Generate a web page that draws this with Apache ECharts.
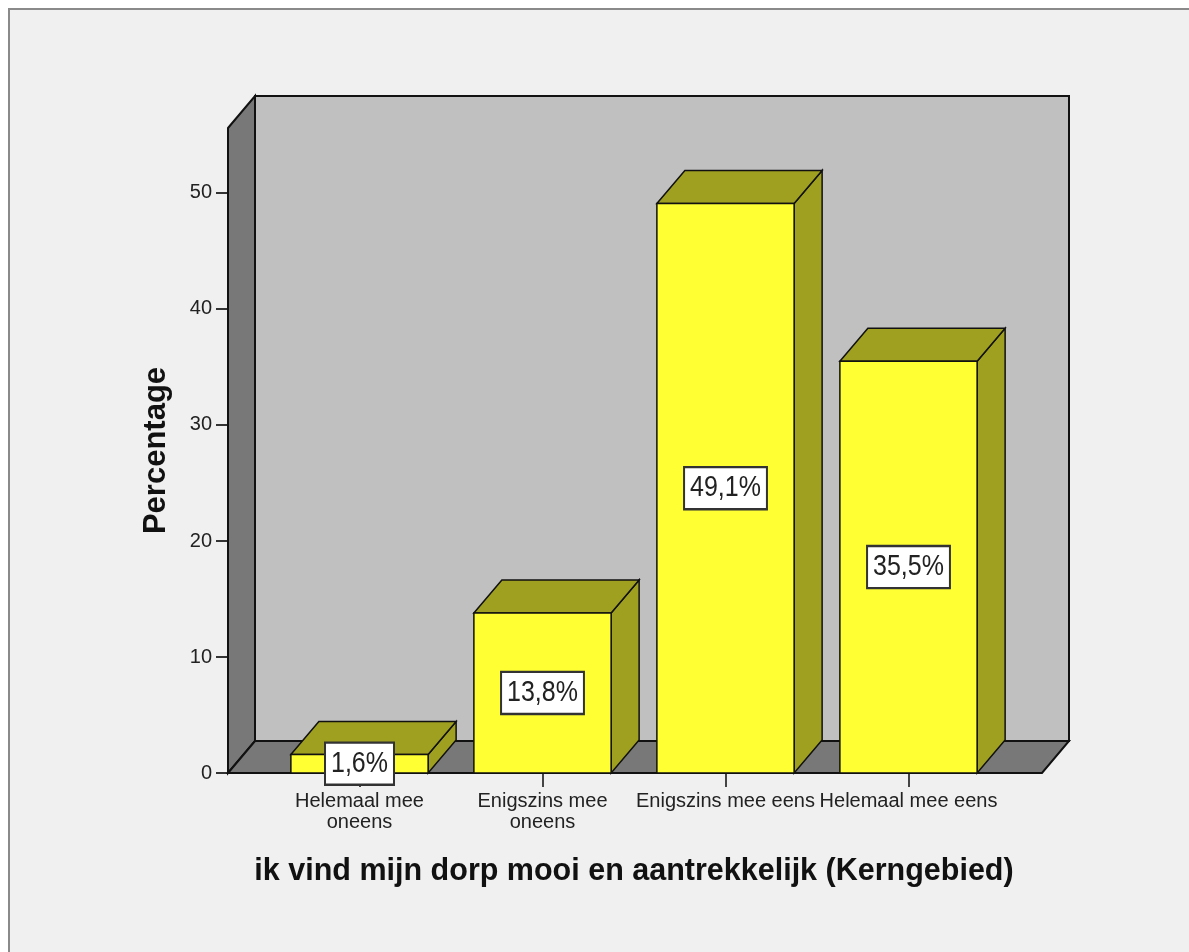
<!DOCTYPE html>
<html>
<head>
<meta charset="utf-8">
<script src="https://cdn.jsdelivr.net/npm/echarts@6/dist/echarts.min.js"></script>
<style>
html, body { margin: 0; padding: 0; background: #ffffff; }
#main { width: 1189px; height: 952px; }
</style>
</head>
<body>
<div id="main"></div>
<script>
var categories = ['Helemaal mee\noneens', 'Enigszins mee\noneens', 'Enigszins mee eens', 'Helemaal mee eens'];
var percentages = [1.6, 13.8, 49.1, 35.5];
var valueLabels = ['1,6%', '13,8%', '49,1%', '35,5%'];
var yTicks = [0, 10, 20, 30, 40, 50];

var DX = 28, DY = -33;   // diepte-offset 3D
var font = 'Liberation Sans, Arial, sans-serif';

var chart = echarts.init(document.getElementById('main'));

// achterwand, zijwand en vloer
function renderWalls(params, api) {
	var cs = params.coordSys;
	var l = cs.x - 40, r = cs.x + cs.width + 42;
	var t = cs.y, b = cs.y + cs.height;
	var dx = 27, dy = -32;
	var edge = { stroke: '#111', lineWidth: 2 };
	return {
		type: 'group',
		children: [{
			type: 'rect',
			shape: { x: l + dx, y: t + dy, width: r - l, height: b - t },
			style: Object.assign({ fill: '#c0c0c0' }, edge)
		}, {
			type: 'polygon',
			shape: { points: [[l, t], [l + dx, t + dy], [l + dx, b + dy], [l, b]] },
			style: Object.assign({ fill: '#787878' }, edge)
		}, {
			type: 'polygon',
			shape: { points: [[l, b], [l + dx, b + dy], [r + dx, b + dy], [r, b]] },
			style: Object.assign({ fill: '#787878' }, edge)
		}]
	};
}

// 3D staaf
function renderBar(params, api) {
	var idx = api.value(0);
	var val = api.value(1);
	var base = api.coord([idx, 0]);
	var top = api.coord([idx, val]);
	var mid = api.coord([idx, val / 2]);
	var bw = api.size([1, 0])[0] * 0.75;
	var x0 = base[0] - bw / 2, x1 = base[0] + bw / 2;
	var yb = base[1], yt = top[1];
	var edge = { stroke: '#111', lineWidth: 1.5 };
	return {
		type: 'group',
		children: [{
			type: 'polygon',
			shape: { points: [[x1, yt], [x1 + DX, yt + DY], [x1 + DX, yb + DY], [x1, yb]] },
			style: Object.assign({ fill: '#9f9f20' }, edge)
		}, {
			type: 'polygon',
			shape: { points: [[x0, yt], [x0 + DX, yt + DY], [x1 + DX, yt + DY], [x1, yt]] },
			style: Object.assign({ fill: '#9f9f20' }, edge)
		}, {
			type: 'rect',
			shape: { x: x0, y: yt, width: bw, height: yb - yt },
			style: Object.assign({ fill: '#ffff33' }, edge)
		}, {
			type: 'text',
			x: mid[0],
			y: mid[1],
			scaleY: 1.17,
			style: {
				text: valueLabels[params.dataIndex],
				fill: '#222',
				font: '25px ' + font,
				align: 'center',
				verticalAlign: 'middle',
				backgroundColor: '#ffffff',
				borderColor: '#333',
				borderWidth: 2,
				padding: [5, 5, 4, 5]
			}
		}]
	};
}

var option = {
	animation: false,
	graphic: [{
		type: 'rect',
		left: 8,
		top: 8,
		z: -10,
		shape: { width: 1300, height: 1100 },
		style: { fill: '#f0f0f0', stroke: '#8a8a8a', lineWidth: 2 }
	}],
	grid: {
		left: 268,
		right: 189,
		top: 128,
		bottom: 179
	},
	xAxis: {
		type: 'category',
		data: categories,
		name: 'ik vind mijn dorp mooi en aantrekkelijk (Kerngebied)',
		nameLocation: 'middle',
		nameGap: 83,
		nameTextStyle: { fontFamily: font, fontSize: 30.5, fontWeight: 'bold', color: '#111' },
		axisLine: { show: false },
		axisTick: { show: true, alignWithLabel: true, length: 14, lineStyle: { color: '#444', width: 2 } },
		axisLabel: { interval: 0, margin: 18, fontFamily: font, fontSize: 20, color: '#222', lineHeight: 21 },
		splitLine: { show: false }
	},
	yAxis: {
		type: 'value',
		min: 0,
		max: 55.6,
		interval: 10,
		offset: 40,
		name: 'Percentage',
		nameLocation: 'middle',
		nameGap: 56,
		nameTextStyle: { fontFamily: font, fontSize: 31, fontWeight: 'bold', color: '#111' },
		axisLine: { show: false },
		axisTick: { show: true, length: 12, lineStyle: { color: '#333', width: 2 } },
		axisLabel: {
			margin: 16, fontFamily: font, fontSize: 20, color: '#222', showMaxLabel: false,
			formatter: function (v) { return yTicks.indexOf(v) >= 0 ? String(v) : ''; }
		},
		splitLine: { show: false }
	},
	series: [{
		type: 'custom',
		z: 1,
		renderItem: renderWalls,
		data: [[0, 0]],
		silent: true
	}, {
		type: 'custom',
		z: 3,
		renderItem: renderBar,
		data: percentages.map(function (v, i) { return [i, v]; })
	}]
};
chart.setOption(option);
</script>
</body>
</html>
